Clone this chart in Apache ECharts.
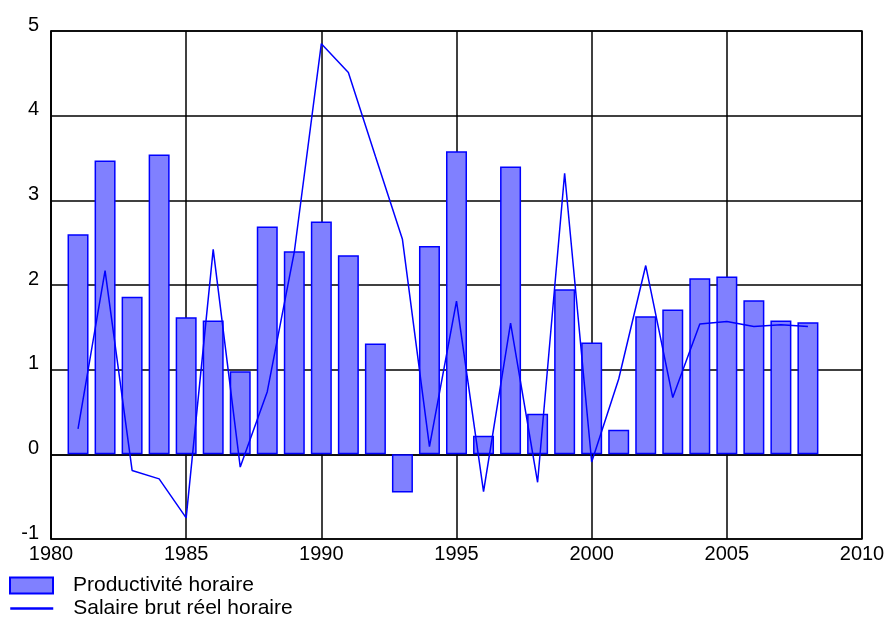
<!DOCTYPE html>
<html><head><meta charset="utf-8">
<script src="https://cdn.jsdelivr.net/npm/echarts@6/dist/echarts.min.js"></script>
<style>html,body{margin:0;padding:0;background:#fff}#c{width:885px;height:617px}</style>
</head><body><div id="c"></div>
<script>
const years = [1981,1982,1983,1984,1985,1986,1987,1988,1989,1990,1991,1992,1993,1994,1995,1996,1997,1998,1999,2000,2001,2002,2003,2004,2005,2006,2007,2008];
const productivite = [2.60,3.47,1.86,3.54,1.62,1.58,0.98,2.69,2.40,2.75,2.35,1.31,-0.45,2.46,3.58,0.22,3.40,0.48,1.95,1.32,0.29,1.63,1.71,2.08,2.10,1.82,1.58,1.56];
const salaire = [0.30,2.17,-0.19,-0.29,-0.75,2.42,-0.15,0.74,2.39,4.85,4.51,3.52,2.54,0.09,1.81,-0.44,1.55,-0.33,3.32,-0.09,0.89,2.23,0.67,1.54,1.57,1.51,1.53,1.51];
const seriesNames = ['Productivité horaire','Salaire brut réel horaire'];
const xTicks = {min:1980, max:2010, interval:5};
const yTicks = {min:-1, max:5, interval:1};

const font = '"Liberation Sans", Arial, sans-serif';
const legendText = {color:'#000',fontSize:21,fontFamily:font,padding:[0,0,0,15]};
const chart = echarts.init(document.getElementById('c'), null, {renderer:'canvas'});
chart.setOption({
  animation:false,
  grid:{left:51,right:23,top:31,bottom:78,show:true,borderColor:'#000',borderWidth:1.5,backgroundColor:'transparent',outerBoundsMode:'none',containLabel:false},
  xAxis:{type:'value',min:xTicks.min,max:xTicks.max,interval:xTicks.interval,
    axisLine:{show:true,lineStyle:{color:'#000',width:1.5}},axisTick:{show:false},
    axisLabel:{color:'#000',fontSize:20,fontFamily:font,margin:5,formatter:v=>String(v)},
    splitLine:{show:true,lineStyle:{color:'#000',width:1.5}}},
  yAxis:{type:'value',min:yTicks.min,max:yTicks.max,interval:yTicks.interval,
    axisLine:{show:true,lineStyle:{color:'#000',width:1.5}},axisTick:{show:false},
    axisLabel:{color:'#000',fontSize:20,fontFamily:font,margin:12,verticalAlign:'bottom',lineHeight:12,formatter:v=>String(v)},
    splitLine:{show:true,lineStyle:{color:'#000',width:1.5}}},
  legend:[
    {orient:'vertical',left:9,top:575,padding:0,itemWidth:43,itemHeight:16,
     textStyle:legendText,data:[{name:seriesNames[0],icon:'rect'}]},
    {orient:'vertical',left:9,top:598,padding:0,itemWidth:43,itemHeight:16,
     textStyle:legendText,
     data:[{name:seriesNames[1],itemStyle:{opacity:0},lineStyle:{color:'#0000ff',width:2.5}}]}
  ],
  series:[
    {name:seriesNames[0],type:'bar',barWidth:21,
     itemStyle:{color:'#8080ff',borderColor:'#0000ff',borderWidth:1.5},
     data:years.map((y,i)=>[y,productivite[i]])},
    {name:seriesNames[1],type:'line',symbol:'none',showSymbol:false,
     lineStyle:{color:'#0000ff',width:1.5},itemStyle:{color:'#0000ff'},z:5,
     data:years.map((y,i)=>[y,salaire[i]])}
  ]
});
</script></body></html>
